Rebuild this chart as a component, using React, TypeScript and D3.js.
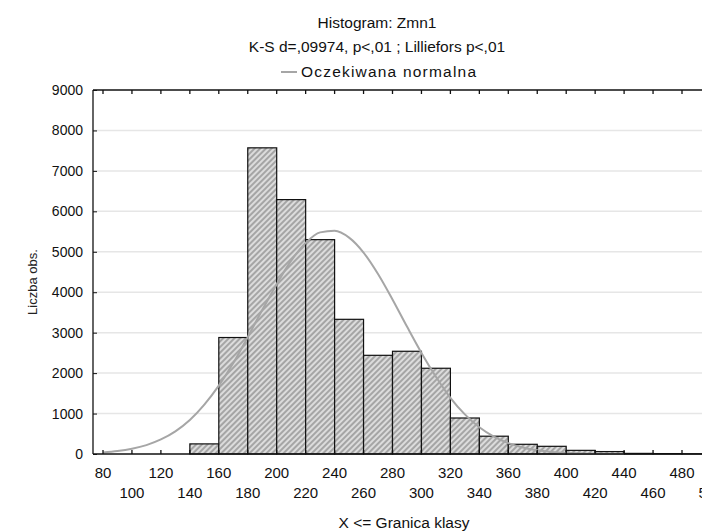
import React, { useEffect, useRef } from "react";
import * as d3 from "d3";

// histogram class edges (X <= upper limit) and counts
const binEdges = [140, 160, 180, 200, 220, 240, 260, 280, 300, 320, 340, 360, 380, 400, 420, 440, 460, 480, 500];
const counts = [250, 2880, 7570, 6290, 5300, 3330, 2440, 2540, 2120, 890, 440, 240, 190, 90, 60, 15, 10, 5];

// expected normal curve
const normX = [80, 90, 100, 110, 120, 130, 140, 150, 160, 170, 180, 190, 200, 210, 220, 230, 240, 250, 260, 270, 280, 290, 300, 310, 320, 330, 340, 350, 360, 370, 380, 390, 400, 410, 420, 430, 440];
const normY = [40, 73, 130, 220, 360, 560, 840, 1220, 1690, 2250, 2890, 3560, 4200, 4780, 5220, 5480, 5520, 5350, 4980, 4450, 3820, 3150, 2500, 1910, 1390, 980, 660, 430, 270, 160, 92, 51, 27, 13, 6, 3, 1];

const xTicksTop = [80, 120, 160, 200, 240, 280, 320, 360, 400, 440, 480];
const xTicksBottom = [100, 140, 180, 220, 260, 300, 340, 380, 420, 460, 500];
const yTicks = [0, 1000, 2000, 3000, 4000, 5000, 6000, 7000, 8000, 9000];

const title = "Histogram: Zmn1";
const subtitle = "K-S d=,09974, p<,01 ; Lilliefors p<,01";
const legendLabel = "Oczekiwana normalna";

const App = () => {
  const svgRef = useRef<SVGSVGElement>(null);

  useEffect(() => {
    const width = 702;
    const height = 531;
    const left = 93;
    const right = 720;
    const top = 90;
    const bottom = 454;
    const font = "'Liberation Sans', Arial, sans-serif";

    const svg = d3.select(svgRef.current)
      .attr("width", width)
      .attr("height", height);

    svg.selectAll("*").remove();

    svg.append("rect")
      .attr("width", width)
      .attr("height", height)
      .attr("fill", "#fff");

    const defs = svg.append("defs");
    const pat = defs.append("pattern")
      .attr("id", "hatch")
      .attr("patternUnits", "userSpaceOnUse")
      .attr("width", 4)
      .attr("height", 4)
      .attr("patternTransform", "rotate(45)");
    pat.append("rect").attr("width", 4).attr("height", 4).attr("fill", "#dcdcdc");
    pat.append("line")
      .attr("x1", 1).attr("y1", 0).attr("x2", 1).attr("y2", 4)
      .attr("stroke", "#888")
      .attr("stroke-width", 1.3);

    const x = d3.scaleLinear().domain([80, 480]).range([103, 682]);
    const y = d3.scaleLinear().domain([0, 9000]).range([bottom, top]);

    // grid
    svg.append("g")
      .selectAll("line")
      .data(yTicks.filter(d => d > 0 && d < 9000))
      .enter().append("line")
      .attr("x1", left)
      .attr("x2", right)
      .attr("y1", d => y(d))
      .attr("y2", d => y(d))
      .attr("stroke", "#e6e6e6")
      .attr("stroke-width", 1.5);

    // bars
    svg.append("g")
      .selectAll("rect")
      .data(counts)
      .enter().append("rect")
      .attr("x", (d, i) => x(binEdges[i]))
      .attr("y", d => y(d))
      .attr("width", (d, i) => x(binEdges[i + 1]) - x(binEdges[i]))
      .attr("height", d => bottom - y(d))
      .attr("fill", "url(#hatch)")
      .attr("stroke", "#111")
      .attr("stroke-width", 1.2);

    // normal curve
    const line = d3.line<number>()
      .x((d, i) => x(normX[i]))
      .y(d => y(d))
      .curve(d3.curveMonotoneX);

    svg.append("path")
      .datum(normY)
      .attr("d", line)
      .attr("fill", "none")
      .attr("stroke", "#a6a6a6")
      .attr("stroke-width", 2);

    // frame
    const frame = svg.append("g").attr("stroke", "#111").attr("stroke-width", 1.3);
    frame.append("line").attr("x1", left).attr("x2", right).attr("y1", top).attr("y2", top);
    frame.append("line").attr("x1", left).attr("x2", right).attr("y1", bottom).attr("y2", bottom);
    frame.append("line").attr("x1", left).attr("x2", left).attr("y1", top).attr("y2", bottom);

    // inner ticks on top and bottom
    const xTickVals = d3.range(80, 501, 20);
    frame.selectAll(".tb")
      .data(xTickVals)
      .enter().append("line")
      .attr("x1", d => x(d)).attr("x2", d => x(d))
      .attr("y1", bottom).attr("y2", bottom - 4);
    frame.selectAll(".tt")
      .data(xTickVals)
      .enter().append("line")
      .attr("x1", d => x(d)).attr("x2", d => x(d))
      .attr("y1", top).attr("y2", top + 4);

    // y axis
    const yAxis = svg.append("g")
      .attr("transform", `translate(${left},0)`)
      .call(d3.axisLeft(y).tickValues(yTicks).tickSize(-4).tickPadding(10).tickFormat(d3.format("d")));
    yAxis.select(".domain").remove();
    yAxis.selectAll("line").attr("stroke", "#111");
    yAxis.selectAll("text")
      .attr("font-family", font)
      .attr("font-size", 14)
      .attr("fill", "#111");

    // x tick labels, two rows
    svg.append("g")
      .selectAll("text")
      .data(xTicksTop)
      .enter().append("text")
      .attr("x", d => x(d))
      .attr("y", 478)
      .attr("text-anchor", "middle")
      .attr("font-family", font)
      .attr("font-size", 15)
      .attr("fill", "#111")
      .text(d => d);

    svg.append("g")
      .selectAll("text")
      .data(xTicksBottom)
      .enter().append("text")
      .attr("x", d => x(d))
      .attr("y", 498)
      .attr("text-anchor", "middle")
      .attr("font-family", font)
      .attr("font-size", 15)
      .attr("fill", "#111")
      .text(d => d);

    // axis titles
    svg.append("text")
      .attr("x", 404)
      .attr("y", 528)
      .attr("text-anchor", "middle")
      .attr("font-family", font)
      .attr("font-size", 15.5)
      .attr("fill", "#111")
      .text("X <= Granica klasy");

    svg.append("text")
      .attr("transform", "rotate(-90)")
      .attr("x", -282)
      .attr("y", 37)
      .attr("text-anchor", "middle")
      .attr("font-family", font)
      .attr("font-size", 13)
      .attr("fill", "#222")
      .text("Liczba obs.");

    // titles
    svg.append("text")
      .attr("x", 377)
      .attr("y", 28)
      .attr("text-anchor", "middle")
      .attr("font-family", font)
      .attr("font-size", 15.5)
      .attr("fill", "#111")
      .text(title);

    svg.append("text")
      .attr("x", 377)
      .attr("y", 52)
      .attr("text-anchor", "middle")
      .attr("font-family", font)
      .attr("font-size", 15.5)
      .attr("fill", "#111")
      .text(subtitle);

    svg.append("line")
      .attr("x1", 281).attr("x2", 297)
      .attr("y1", 72).attr("y2", 72)
      .attr("stroke", "#888")
      .attr("stroke-width", 1.5);

    svg.append("text")
      .attr("x", 301)
      .attr("y", 77)
      .attr("font-family", font)
      .attr("font-size", 15.5)
      .attr("textLength", 175)
      .attr("lengthAdjust", "spacing")
      .attr("fill", "#111")
      .text(legendLabel);
  }, []);

  return (
    <svg ref={svgRef} style={{ position: "absolute", left: 0, top: 0 }}></svg>
  );
};

export default App;
